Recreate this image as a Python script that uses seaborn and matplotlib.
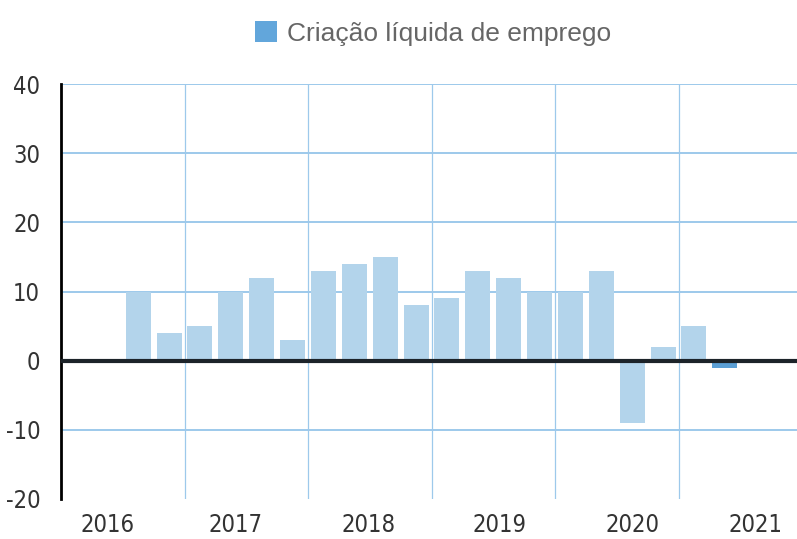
import numpy as np
import pandas as pd
import matplotlib
matplotlib.use("Agg")
import matplotlib.pyplot as plt
import seaborn as sns
from matplotlib.patches import Patch

# quarterly net job creation (2016Q1 .. 2021Q4), NaN = no data
years = [2016, 2017, 2018, 2019, 2020, 2021]
quarters = [f"{y}T{q}" for y in years for q in range(1, 5)]
valores = [np.nan, np.nan, 10, 4,
           5, 10, 12, 3,
           13, 14, 15, 8,
           9, 13, 12, 10,
           10, 13, -9, 2,
           5, -1, np.nan, np.nan]
destaque = ["normal"] * 21 + ["destaque"] + ["normal"] * 2
year_tick_pos = [1.0, 5.15, 9.45, 13.7, 18.0, 22.0]
y_ticks = [-20, -10, 0, 10, 20, 30, 40]

df = pd.DataFrame({"trimestre": quarters, "valor": valores, "tipo": destaque})

sns.set_theme(style="white")
plt.rcParams["font.family"] = ["DejaVu Sans"]
plt.rcParams["font.stretch"] = "condensed"

fig = plt.figure(figsize=(7.97, 5.39), dpi=100)
ax = fig.add_axes([61 / 797, 40 / 539, 741 / 797, 415 / 539])

cores = {"normal": "#b3d4eb", "destaque": "#5b9fd5"}
sns.barplot(data=df, x="trimestre", y="valor", hue="tipo", order=quarters,
            palette=cores, dodge=False, width=0.81, legend=False, ax=ax,
            saturation=1, linewidth=0, edgecolor="none")

ax.set_xlim(-0.5, len(quarters) - 0.5)
ax.set_ylim(-20, 40)

# grid
for yv in y_ticks:
    if yv not in (0, -20):
        ax.axhline(yv, color="#9dc9eb", lw=1.4, zorder=0)
for k in range(1, len(years)):
    ax.axvline(4 * k - 0.5, color="#9dc9eb", lw=0.9, zorder=0)
ax.axhline(0, color="#1c2329", lw=3, zorder=3)

tick_font = {"family": "DejaVu Sans", "stretch": "condensed", "size": 17,
             "weight": "light"}
ax.set_yticks(y_ticks)
ax.set_yticklabels([str(v) for v in y_ticks], fontdict=tick_font, color="#333333")
ax.set_xticks(year_tick_pos)
ax.set_xticklabels([str(y) for y in years], fontdict=tick_font, color="#333333")
ax.tick_params(axis="both", length=0)
ax.tick_params(axis="x", pad=10)
ax.tick_params(axis="y", pad=15)
ax.set_xlabel("")
ax.set_ylabel("")

for s in ["top", "right", "bottom"]:
    ax.spines[s].set_visible(False)
ax.spines["left"].set_color("black")
ax.spines["left"].set_linewidth(2)

handle = Patch(facecolor="#62a6db", edgecolor="none")
fig.legend([handle], ["Criação líquida de emprego"], loc="upper center",
           bbox_to_anchor=(0.543, 1.005), frameon=False, handlelength=0.85,
           handleheight=0.85, handletextpad=0.35,
           prop={"family": "Liberation Sans", "size": 19}, labelcolor="#666666")

fig.savefig("out.png", dpi=100)
